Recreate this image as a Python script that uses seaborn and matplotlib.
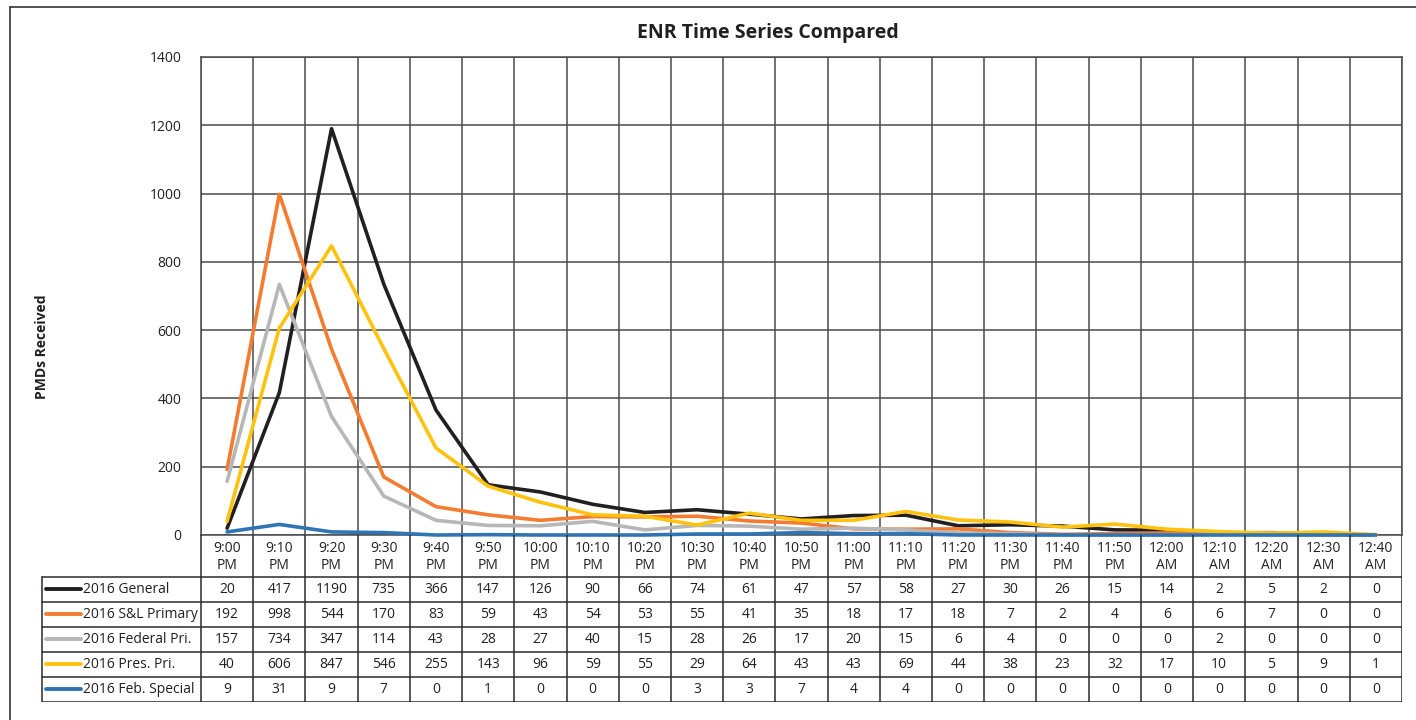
import numpy as np
import pandas as pd
import matplotlib
matplotlib.use("Agg")
import matplotlib.pyplot as plt
import seaborn as sns
from matplotlib.lines import Line2D

times = ["9:00\nPM", "9:10\nPM", "9:20\nPM", "9:30\nPM", "9:40\nPM", "9:50\nPM",
         "10:00\nPM", "10:10\nPM", "10:20\nPM", "10:30\nPM", "10:40\nPM", "10:50\nPM",
         "11:00\nPM", "11:10\nPM", "11:20\nPM", "11:30\nPM", "11:40\nPM", "11:50\nPM",
         "12:00\nAM", "12:10\nAM", "12:20\nAM", "12:30\nAM", "12:40\nAM"]

series_names = ["2016 General", "2016 S&L Primary", "2016 Federal Pri.",
                "2016 Pres. Pri.", "2016 Feb. Special"]

general = [20, 417, 1190, 735, 366, 147, 126, 90, 66, 74, 61, 47, 57, 58, 27, 30, 26, 15, 14, 2, 5, 2, 0]
sl_primary = [192, 998, 544, 170, 83, 59, 43, 54, 53, 55, 41, 35, 18, 17, 18, 7, 2, 4, 6, 6, 7, 0, 0]
federal_pri = [157, 734, 347, 114, 43, 28, 27, 40, 15, 28, 26, 17, 20, 15, 6, 4, 0, 0, 0, 2, 0, 0, 0]
pres_pri = [40, 606, 847, 546, 255, 143, 96, 59, 55, 29, 64, 43, 43, 69, 44, 38, 23, 32, 17, 10, 5, 9, 1]
feb_special = [9, 31, 9, 7, 0, 1, 0, 0, 0, 3, 3, 7, 4, 4, 0, 0, 0, 0, 0, 0, 0, 0, 0]

colors = ["#231F20", "#F47C30", "#B7B7B7", "#FFC20E", "#2F74B5"]

all_values = [general, sl_primary, federal_pri, pres_pri, feb_special]

rows = []
for name, vals in zip(series_names, all_values):
    for i, v in enumerate(vals):
        rows.append({"idx": i, "value": v, "series": name})
df = pd.DataFrame(rows)

sns.set_theme(style="white")
plt.rcParams["font.family"] = ["Open Sans", "DejaVu Sans"]

W, H = 1416, 720
fig = plt.figure(figsize=(W / 100, H / 100), dpi=100)

def fx(px):
    return px / W

def fy(py):
    return 1 - py / H

L, R, T, B = 201, 1402, 57, 535
ax = fig.add_axes([fx(L), fy(B), fx(R) - fx(L), fy(T) - fy(B)])
sns.lineplot(data=df, x="idx", y="value", hue="series", hue_order=series_names,
             palette=colors, sort=False, legend=False, estimator=None,
             linewidth=2.6, ax=ax)
for ln in ax.lines:
    ln.set_clip_on(False)
    ln.set_zorder(3)
n = len(times)
ax.set_xlim(-0.5, n - 0.5)
ax.set_ylim(0, 1400)
ax.set_yticks(range(0, 1401, 200))
ax.set_xticks(np.arange(-0.5, n, 1.0))
ax.set_xticklabels([])
ax.set_xlabel("")
ax.set_ylabel("")
ax.tick_params(length=0, labelsize=10, colors="#231F20", pad=14)
ax.set_axisbelow(True)
ax.grid(True, color="#4A4A4A", linewidth=1.1)
for s in ax.spines.values():
    s.set_color("#4A4A4A")
    s.set_linewidth(1.1)
    s.set_zorder(1)

# Data table
w = (R - L) / n
TL, TT, TB = 41, 535, 702
tax = fig.add_axes([fx(TL), fy(TB), fx(R) - fx(TL), fy(TT) - fy(TB)])
tax.set_xlim(-0.5 - (L - TL) / w, n - 0.5)
tax.set_ylim(TB, TT)
tax.axis("off")

def tx(px):
    return -0.5 + (px - L) / w

line_kw = dict(color="#2A2A2A", linewidth=1.1)
hdr_bottom = 577
row_h = 25
for i in range(n + 1):
    tax.plot([i - 0.5, i - 0.5], [TT, TB], **line_kw)
tax.plot([tx(TL + 1), tx(TL + 1)], [hdr_bottom, TB], **line_kw)
for k in range(6):
    yy = hdr_bottom + k * row_h
    tax.plot([tx(TL + 1), n - 0.5], [yy, yy], **line_kw)

for i, t in enumerate(times):
    tax.text(i, (TT + hdr_bottom) / 2 + 1, t, ha="center", va="center",
             fontsize=10, color="#231F20", linespacing=1.25)

for r, (name, vals, c) in enumerate(zip(series_names, all_values, colors)):
    yc = hdr_bottom + row_h * (r + 0.5)
    tax.plot([tx(46), tx(81)], [yc, yc], color=c, linewidth=2.8, solid_capstyle="round")
    tax.text(tx(83), yc + 0.5, name, ha="left", va="center", fontsize=10, color="#231F20")
    for i, v in enumerate(vals):
        tax.text(i, yc + 0.5, str(v), ha="center", va="center", fontsize=10, color="#231F20")

fig.text(fx(768), fy(33), "ENR Time Series Compared", ha="center", va="center",
         fontsize=14, fontweight="bold", color="#231F20")
fig.text(fx(42), fy(347), "PMDs Received", ha="center", va="center", rotation=90,
         fontsize=10, fontweight="bold", color="#231F20")

# Outer frame
fig.add_artist(Line2D([fx(10), fx(1416)], [fy(7), fy(7)], color="#333333", linewidth=1.2))
fig.add_artist(Line2D([fx(10), fx(10)], [fy(7), fy(720)], color="#333333", linewidth=1.2))

fig.savefig("out.png", dpi=100)
